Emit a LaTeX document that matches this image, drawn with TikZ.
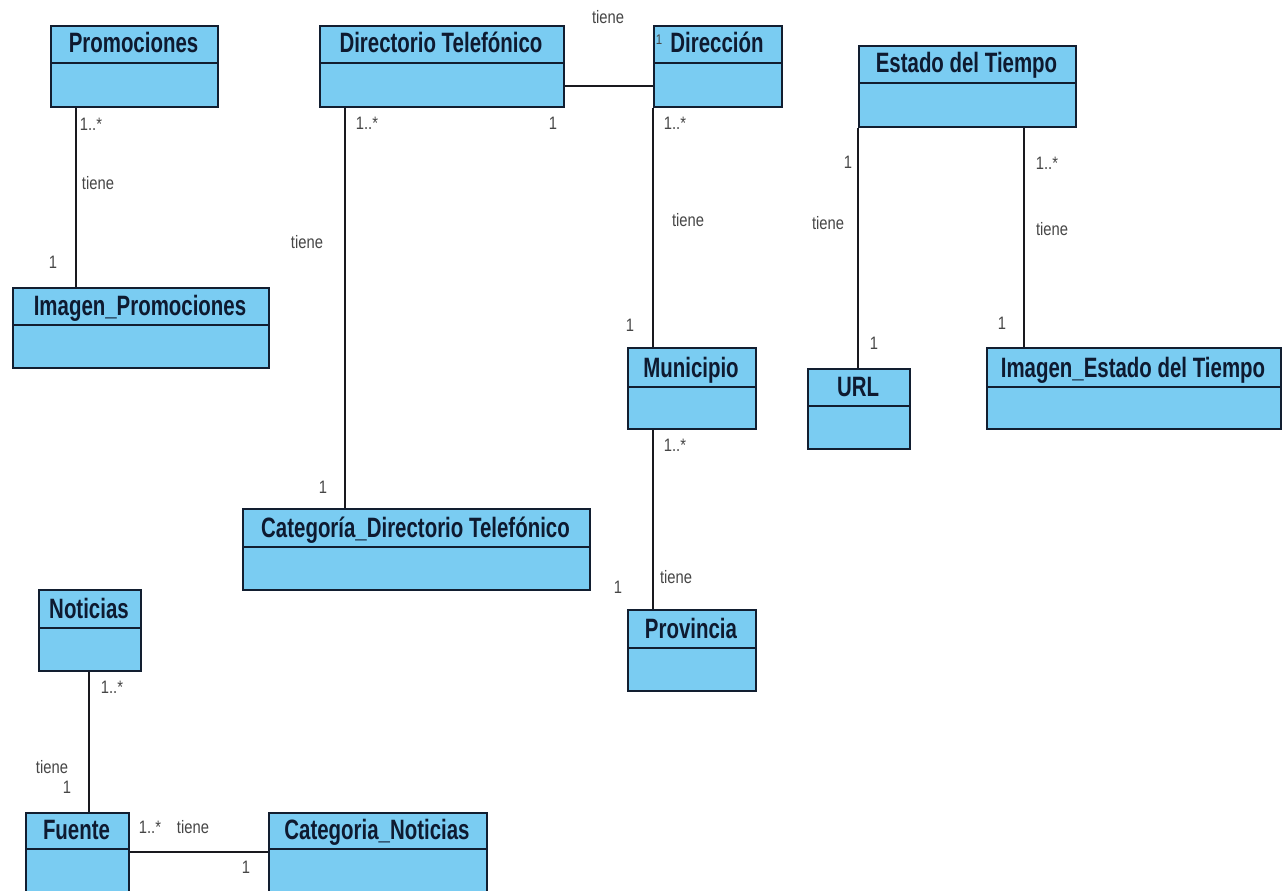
\documentclass[tikz,border=0pt]{standalone}
\usepackage{fontspec}
\newfontfamily\titlefont[FakeStretch=0.73]{Liberation Sans}
\newfontfamily\labelfont[FakeStretch=0.82]{Liberation Sans}
\definecolor{classfill}{RGB}{122,204,242}
\definecolor{classedge}{RGB}{18,30,48}
\definecolor{titleink}{RGB}{14,26,48}
\definecolor{labelink}{RGB}{70,70,70}
\definecolor{wireink}{RGB}{25,25,30}

\tikzset{
  classbox/.style={draw=classedge, fill=classfill, line width=2pt, rectangle, inner sep=0pt},
  classline/.style={draw=classedge, line width=1.6pt},
  classtitle/.style={anchor=base, inner sep=0pt, text=titleink,
    font=\titlefont\bfseries\fontsize{28}{30}\selectfont},
  assoc/.style={draw=wireink, line width=1.5pt},
  mult/.style={inner sep=0pt, text=labelink, font=\labelfont\fontsize{18}{20}\selectfont},
}

% \umlclass{name}{x1}{y1}{x2}{divider y}{y2}{title}
\newcommand{\umlclass}[7]{%
  \node[classbox, anchor=north west, minimum width={#4-#2}, minimum height={#6-#3}] (#1) at (#2,#3) {};
  \draw[classline] (#2,#5) -- (#4,#5);
  \node[classtitle] (#1-title) at ({(#2+#4)/2}, {#5-10}) {#7};
}

\begin{document}
\begin{tikzpicture}[x=1pt, y=-1pt]
\useasboundingbox[fill=white] (0,0) rectangle (1288,891);

\begin{scope}
\clip (0,0) rectangle (1288,891);
% classes
\umlclass{prom}{50}{25}{217}{63}{106}{Promociones}
\umlclass{imgprom}{12}{287}{268}{325}{367}{Imagen\_Promociones}
\umlclass{dirtel}{319}{25}{563}{63}{106}{Directorio Telefónico}
\umlclass{dir}{653}{25}{781}{63}{106}{Dirección}
\umlclass{cat}{242}{508}{589}{547}{589}{Categoría\_Directorio Telefónico}
\umlclass{muni}{627}{347}{755}{387}{428}{Municipio}
\umlclass{prov}{627}{609}{755}{648}{690}{Provincia}
\umlclass{edt}{858}{45}{1075}{83}{126}{Estado del Tiempo}
\umlclass{url}{807}{368}{909}{406}{448}{URL}
\umlclass{imgedt}{986}{347}{1280}{387}{428}{Imagen\_Estado del Tiempo}
\umlclass{noticias}{38}{589}{140}{628}{670}{Noticias}
\umlclass{fuente}{25}{812}{128}{849}{894}{Fuente}
\umlclass{catnot}{268}{812}{486}{849}{894}{Categoria\_Noticias}
\end{scope}

% associations
\draw[assoc] ([xshift=26pt]prom.south west) -- ([xshift=26pt]prom.south west |- imgprom.north);
\draw[assoc] ([xshift=26pt]dirtel.south west) -- ([xshift=26pt]dirtel.south west |- cat.north);
\draw[assoc] ([yshift=-19.5pt]dirtel.east) -- ([yshift=-19.5pt]dirtel.east -| dir.west);
\draw[assoc] (dir.south west) -- (dir.south west |- muni.north);
\draw[assoc] ([xshift=26pt]muni.south west) -- ([xshift=26pt]muni.south west |- prov.north);
\draw[assoc] (edt.south west) -- (edt.south west |- url.north);
\draw[assoc] ([xshift=38pt]imgedt.north west) -- ([xshift=38pt]imgedt.north west |- edt.south);
\draw[assoc] ([xshift=51pt]noticias.south west) -- ([xshift=51pt]noticias.south west |- fuente.north);
\draw[assoc] ([yshift=-40pt]fuente.north east) -- ([yshift=-40pt]fuente.north east -| catnot.west);

% multiplicities and association names
\node[mult] (m1) at (91,124) {1..*};
\node[mult] (m2) at (98,183) {tiene};
\node[mult] (m3) at (53,262) {1};

\node[mult] (m4) at (367,123) {1..*};
\node[mult] (m5) at (307,242) {tiene};
\node[mult] (m6) at (323,487) {1};

\node[mult] (m7) at (553,123) {1};
\node[mult] (m8) at (608,17) {tiene};
\node[mult, font=\labelfont\fontsize{14}{16}\selectfont] (m9) at (659,40) {1};

\node[mult] (m10) at (675,123) {1..*};
\node[mult] (m11) at (688,220) {tiene};
\node[mult] (m12) at (630,325) {1};

\node[mult] (m13) at (675,445) {1..*};
\node[mult] (m14) at (676,577) {tiene};
\node[mult] (m15) at (618,587) {1};

\node[mult] (m16) at (848,162) {1};
\node[mult] (m17) at (828,223) {tiene};
\node[mult] (m18) at (874,343) {1};

\node[mult] (m19) at (1047,163) {1..*};
\node[mult] (m20) at (1052,229) {tiene};
\node[mult] (m21) at (1002,323) {1};

\node[mult] (m22) at (112,687) {1..*};
\node[mult] (m23) at (52,767) {tiene};
\node[mult] (m24) at (67,787) {1};

\node[mult] (m25) at (150,827) {1..*};
\node[mult] (m26) at (193,827) {tiene};
\node[mult] (m27) at (246,867) {1};
\end{tikzpicture}
\end{document}
